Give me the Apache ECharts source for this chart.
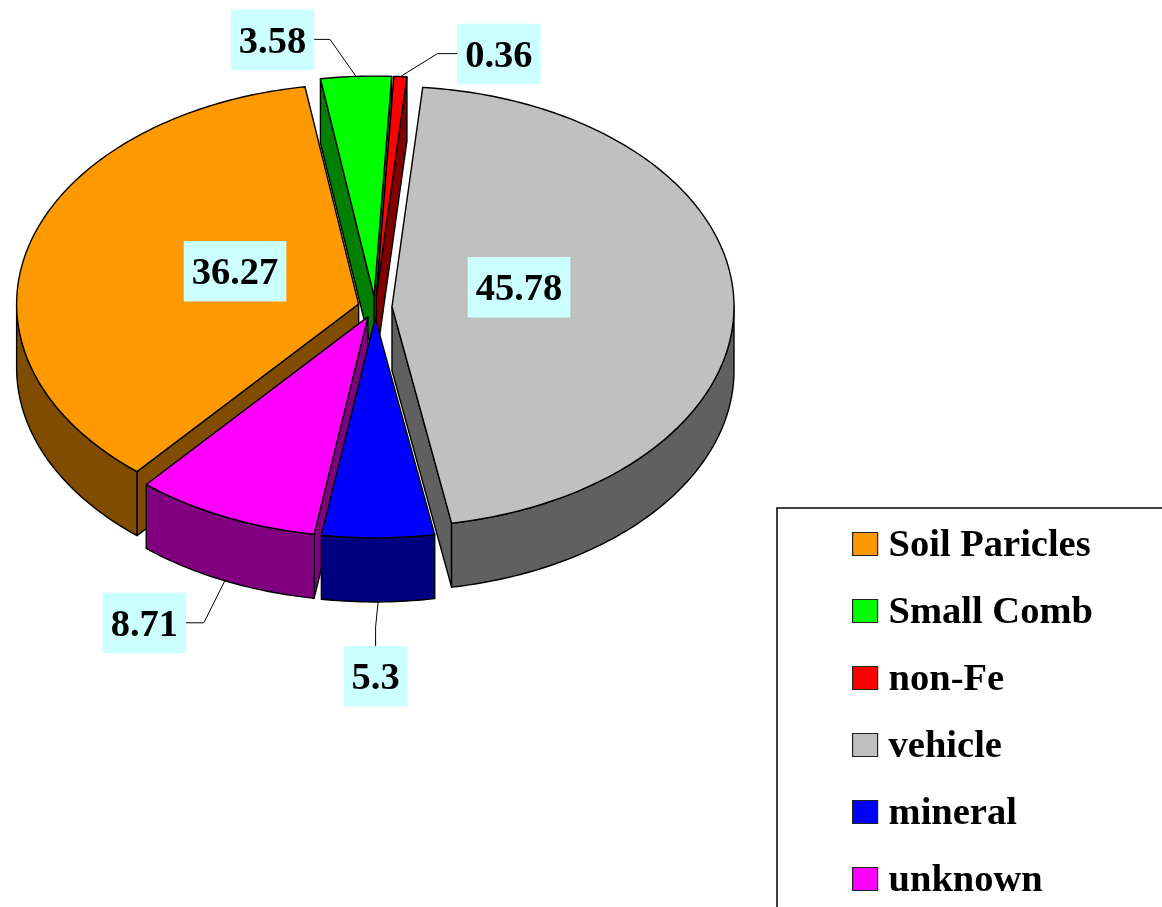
<!DOCTYPE html>
<html>
<head>
<meta charset="utf-8">
<style>html,body{margin:0;padding:0;background:#fff;overflow:hidden}#c{width:1162px;height:907px}</style>
<script src="https://cdn.jsdelivr.net/npm/echarts@6/dist/echarts.min.js"></script>
</head>
<body>
<div id="c"></div>
<script>
var categories = ['Soil Paricles', 'Small Comb', 'non-Fe', 'vehicle', 'mineral', 'unknown'];
var values = [36.27, 3.58, 0.36, 45.78, 5.3, 8.71];
var topColors = ['#ff9900', '#00ff00', '#ff0000', '#c0c0c0', '#0000ff', '#ff00ff'];
var wallColors = ['#7f4c00', '#008000', '#800000', '#606060', '#000080', '#800080'];

var FONT = 'bold 38.5px "Liberation Serif", serif';
var geo = { cx: 375, cy: 307, rx: 342, ry: 220, depth: 64, explode: 17, startDeg: 220.4, minSpan: 2.2 };
var drawOrder = [2, 0, 1, 3, 5, 4];
// label offset from slice anchor; elbow offset for leader lines
var labelLayout = [
  { inside: true, label: [-123.6, -33] },
  { label: [-83.5, -37], elbow: [-26, -37] },
  { label: [98.5, -23], elbow: [37, -23] },
  { inside: true, label: [127, -19.5] },
  { label: [-2.5, 74], elbow: [-2.5, 25] },
  { label: [-80.5, 42], elbow: [-21, 42] }
];

var total = values.reduce(function (a, b) { return a + b; }, 0);
var rad = Math.PI / 180;

// like a pie's minAngle: a very thin slice is widened, the neighbour before it gives up the difference
var spans = values.map(function (v) { return v / total * 360; });
spans.forEach(function (s, i) {
  if (s < geo.minSpan && i > 0) { spans[i - 1] -= geo.minSpan - s; spans[i] = geo.minSpan; }
});

function sliceAngles(i) {
  var a = geo.startDeg;
  for (var k = 0; k < i; k++) a += spans[k];
  return [a, a + spans[i]];
}
function makeRenderer(i) {
  return function () {
    var ang = sliceAngles(i), a0 = ang[0], a1 = ang[1];
    if (a0 >= 360) { a0 -= 360; a1 -= 360; }
    var mid = (a0 + a1) / 2;
    var ax = geo.cx + geo.explode * Math.sin(mid * rad);
    var ay = geo.cy - geo.explode * (geo.ry / geo.rx) * Math.cos(mid * rad);
    function rim(a, down) {
      return [ax + geo.rx * Math.sin(a * rad), ay - geo.ry * Math.cos(a * rad) + (down ? geo.depth : 0)];
    }
    function arc(from, to, down) {
      var pts = [], n = Math.max(2, Math.ceil(Math.abs(to - from)));
      for (var k = 0; k <= n; k++) pts.push(rim(from + (to - from) * k / n, down));
      return pts;
    }
    var base = drawOrder[i] * 10;
    var line = { stroke: '#000', lineWidth: 1.4, lineJoin: 'round' };
    function poly(points, fill, z2) {
      return { type: 'polygon', z2: z2, shape: { points: points }, style: Object.assign({ fill: fill }, line) };
    }
    var children = [];
    var apexDown = [ax, ay + geo.depth];
    // cut faces: only those turned towards the viewer
    var n0 = (a0 + 360) % 360, n1 = (a1 + 360) % 360;
    if (n0 > 180 && n0 < 360) {
      children.push(poly([[ax, ay], rim(a0, false), rim(a0, true), apexDown], wallColors[i], base + 1));
    }
    if (n1 > 0 && n1 < 180) {
      children.push(poly([[ax, ay], rim(a1, false), rim(a1, true), apexDown], wallColors[i], base + 1));
    }
    // outer wall, only the part facing the viewer
    var f0 = Math.max(a0, 90), f1 = Math.min(a1, 270);
    if (f1 > f0) {
      var wall = arc(f0, f1, false).concat(arc(f1, f0, true));
      children.push(poly(wall, wallColors[i], base + 2));
    }
    // top face
    children.push(poly([[ax, ay]].concat(arc(a0, a1, false)), topColors[i], base + 3));
    // label and leader line
    var lay = labelLayout[i];
    var front = mid > 90 && mid < 270;
    var anchor = lay.inside ? [ax, ay] : rim(mid, front);
    var lp = [anchor[0] + lay.label[0], anchor[1] + lay.label[1]];
    if (lay.elbow) {
      children.push({
        type: 'polyline', z2: 900,
        shape: { points: [anchor, [anchor[0] + lay.elbow[0], anchor[1] + lay.elbow[1]], lp] },
        style: { stroke: '#000', lineWidth: 1, fill: null }
      });
    }
    children.push({
      type: 'text', z2: 1000, x: lp[0], y: lp[1] - 30,
      style: {
        text: String(values[i]), font: FONT, fill: '#000',
        align: 'center', verticalAlign: 'top',
        backgroundColor: '#ccffff', padding: [14, 8, 7.5, 8]
      }
    });
    return { type: 'group', children: children };
  };
}

var series = categories.map(function (name, i) {
  return {
    type: 'custom', name: name, coordinateSystem: 'none',
    renderItem: makeRenderer(i), animation: false, silent: true,
    itemStyle: { color: topColors[i] },
    data: [values[i]]
  };
});

var chart = echarts.init(document.getElementById('c'), null, { renderer: 'canvas' });
chart.setOption({
  backgroundColor: '#fff',
  animation: false,
  legend: {
    orient: 'vertical', left: 777, top: 508, height: 1000, width: 600, selectedMode: false,
    data: categories.map(function (n, i) { return { name: n, itemStyle: { color: topColors[i] } }; }),
    icon: 'rect', itemWidth: 25, itemHeight: 23, itemGap: 28,
    padding: [19, 120, 60, 75],
    borderColor: '#000', borderWidth: 1.5,
    itemStyle: { borderColor: '#222', borderWidth: 1.2 },
    formatter: function (name) { return '{t|' + name + '}'; },
    textStyle: {
      color: '#000',
      rich: { t: { fontFamily: 'Liberation Serif', fontWeight: 'bold', fontSize: 38.5, color: '#000', padding: [5, 0, 0, 6] } }
    }
  },
  series: series
});
</script>
</body>
</html>
